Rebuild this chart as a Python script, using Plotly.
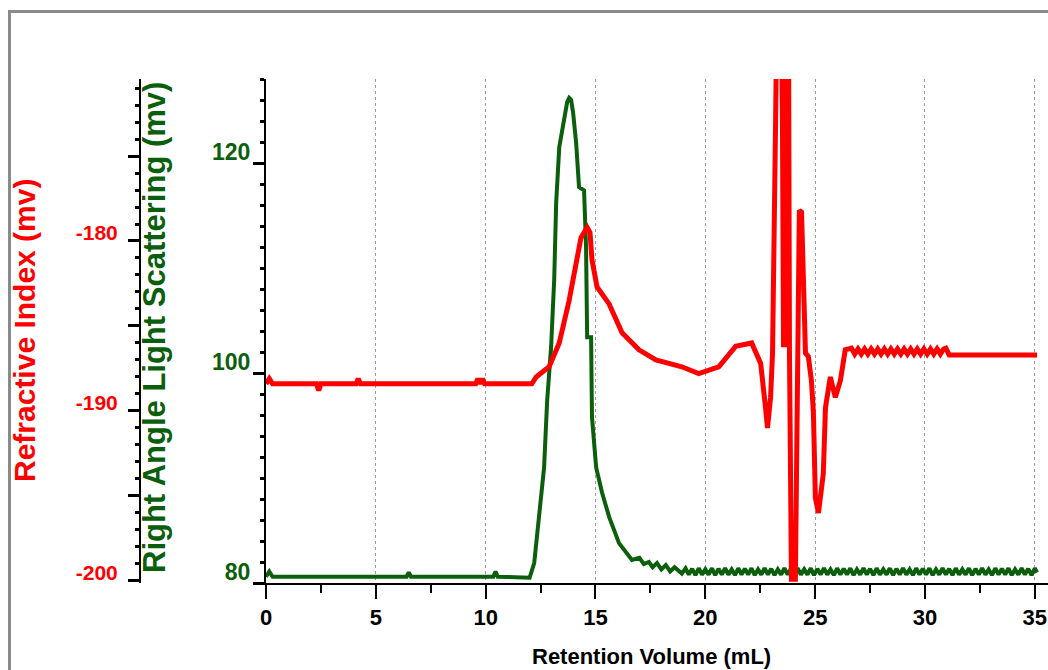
import plotly.graph_objects as go

# ---------------- data ----------------
# Right angle light scattering (green, mV)
ls_volume = [0.0, 0.15, 0.3, 6.4, 6.5, 6.6, 10.35, 10.45, 10.55, 12.0, 12.21, 12.44, 12.66,
             12.80, 12.98, 13.12, 13.21, 13.35, 13.57, 13.71, 13.80, 13.89, 13.98, 14.12,
             14.25, 14.48, 14.57, 14.62, 14.80, 14.84, 15.03, 15.30, 15.62, 16.07, 16.66,
             17.0, 17.2, 17.43, 17.6, 17.8, 18.0, 18.2, 18.4, 18.6, 18.93,
             19.1, 19.25, 19.4, 19.55, 19.7, 19.85, 20.0, 20.15, 20.3, 20.45, 20.6, 20.75,
             20.9, 21.05, 21.2, 21.35, 21.5, 21.65, 21.8, 21.95, 22.1, 22.25, 22.4, 22.55,
             22.7, 22.85, 23.0, 23.15, 23.3, 23.45, 23.6, 23.75, 23.9, 24.05, 24.2, 24.35,
             24.5, 24.65, 24.8, 24.95, 25.1, 25.25, 25.4, 25.55, 25.7, 25.85, 26.0, 26.15,
             26.3, 26.45, 26.6, 26.75, 26.9, 27.05, 27.2, 27.35, 27.5, 27.65, 27.8, 27.95,
             28.1, 28.25, 28.4, 28.55, 28.7, 28.85, 29.0, 29.15, 29.3, 29.45, 29.6, 29.75,
             29.9, 30.05, 30.2, 30.35, 30.5, 30.65, 30.8, 30.95, 31.1, 31.25, 31.4, 31.55,
             31.7, 31.85, 32.0, 32.15, 32.3, 32.45, 32.6, 32.75, 32.9, 33.05, 33.2, 33.35,
             33.5, 33.65, 33.8, 33.95, 34.1, 34.25, 34.4, 34.55, 34.7, 34.85, 35.0, 35.1]
ls_signal = [80.6, 81.1, 80.6, 80.6, 81.0, 80.6, 80.6, 81.1, 80.6, 80.5, 81.9, 86.3, 91.0,
             97.4, 102.5, 108.9, 116.2, 121.5, 124.1, 125.8, 126.2, 126.0, 124.8, 121.9,
             117.7, 117.4, 112.0, 103.4, 103.4, 95.8, 91.0, 88.6, 86.3, 83.8, 82.2,
             82.4, 81.8, 82.0, 81.5, 81.9, 81.3, 81.7, 81.1, 81.5, 80.9,
             81.4, 80.8, 81.35, 80.75, 81.4, 80.8, 81.3, 80.8, 81.4, 80.75, 81.35, 80.8,
             81.4, 80.8, 81.3, 80.75, 81.4, 80.8, 81.35, 80.8, 81.4, 80.75, 81.3, 80.8,
             81.4, 80.8, 81.35, 80.75, 81.3, 80.8, 81.4, 80.8, 81.35, 80.75, 81.4, 80.8,
             81.3, 80.8, 81.4, 80.75, 81.35, 80.8, 81.4, 80.8, 81.3, 80.75, 81.4, 80.8,
             81.35, 80.8, 81.4, 80.75, 81.3, 80.8, 81.4, 80.8, 81.35, 80.75, 81.4, 80.8,
             81.3, 80.8, 81.4, 80.75, 81.35, 80.8, 81.4, 80.8, 81.3, 80.75, 81.4, 80.8,
             81.35, 80.8, 81.4, 80.75, 81.3, 80.8, 81.4, 80.8, 81.35, 80.75, 81.4, 80.8,
             81.3, 80.8, 81.4, 80.75, 81.35, 80.8, 81.4, 80.8, 81.3, 80.75, 81.4, 80.8,
             81.35, 80.8, 81.4, 80.75, 81.3, 80.8, 81.4, 80.8, 81.35, 80.75, 81.4, 81.0]

# Refractive index (red, mV)
ri_volume = [0.0, 0.15, 0.3, 2.3, 2.4, 2.5, 4.1, 4.2, 4.3, 9.55, 9.65, 9.75, 9.85, 9.95,
             12.1, 12.30, 12.89, 13.35, 13.80, 14.12, 14.34, 14.62, 14.75, 14.84, 15.07,
             15.62, 16.21, 16.98, 17.75, 18.93, 19.70, 20.61, 21.38, 22.11, 22.52, 22.74,
             22.83, 22.97, 23.06, 23.20, 23.24, 23.47, 23.51, 23.56, 23.65, 23.70, 23.79,
             23.83, 23.92, 24.10, 24.24, 24.28, 24.38, 24.47, 24.56, 24.69, 24.83, 24.92,
             25.01, 25.15, 25.24, 25.37, 25.47, 25.60, 25.69, 25.92, 26.15, 26.37, 26.65,
             26.8, 26.95, 27.1, 27.25, 27.4, 27.55, 27.7, 27.85, 28.0, 28.15, 28.3, 28.45,
             28.6, 28.75, 28.9, 29.05, 29.2, 29.35, 29.5, 29.65, 29.8, 29.95, 30.1, 30.25,
             30.4, 30.55, 30.7, 30.85, 30.95, 31.1, 35.1]
ri_signal = [-188.4, -188.1, -188.4, -188.4, -188.8, -188.4, -188.4, -188.1, -188.4, -188.4,
             -188.1, -188.4, -188.1, -188.4,
             -188.4, -188.0, -187.4, -186.0, -183.5, -181.1, -179.8, -179.2, -179.5, -181.1,
             -182.7, -183.7, -185.4, -186.4, -187.0, -187.4, -187.8, -187.4, -186.2, -186.0,
             -187.2, -189.8, -191.0, -189.2, -186.6, -172.9, -168.2, -168.2, -172.9, -186.1,
             -186.1, -168.2, -168.2, -186.4, -199.9, -199.9, -185.2, -178.2, -178.3, -182.9,
             -186.6, -186.8, -188.2, -190.1, -195.1, -196.0, -195.2, -193.7, -189.8, -188.8,
             -188.0, -189.2, -188.2, -186.4, -186.3,
             -186.65, -186.35, -186.65, -186.35, -186.65, -186.35, -186.65, -186.35, -186.65,
             -186.35, -186.65, -186.35, -186.65, -186.35, -186.65, -186.35, -186.65, -186.35,
             -186.65, -186.35, -186.65, -186.35, -186.65, -186.35, -186.65, -186.35, -186.65,
             -186.35, -186.3, -186.7, -186.7]

x_ticks = [0, 5, 10, 15, 20, 25, 30, 35]
ls_tickvals = [80, 100, 120]
ri_tickvals = [-200, -195, -190, -185, -180, -175]
ri_ticktext = ["-200", "", "-190", "", "-180", ""]
ri_gridvals = [-190, -180]

# ---------------- styling ----------------
W, H = 1048, 670
RED = "#ff0000"
GREEN = "#0b5e0b"
FONT = "Liberation Sans, Arial, sans-serif"

def px_x(p):
    return p / W

def px_y(p):
    return 1 - p / H

y_dom = [px_y(583), px_y(79)]

fig = go.Figure()
fig.add_trace(go.Scatter(x=ls_volume, y=ls_signal, mode="lines",
                         line=dict(color=GREEN, width=4), yaxis="y", showlegend=False))
fig.add_trace(go.Scatter(x=ri_volume, y=ri_signal, mode="lines",
                         line=dict(color=RED, width=5), yaxis="y2", showlegend=False))

fig.update_layout(
    width=W, height=H,
    margin=dict(l=0, r=0, t=0, b=0, autoexpand=False),
    paper_bgcolor="white", plot_bgcolor="white",
    showlegend=False,
    xaxis=dict(
        domain=[px_x(266), 1.0], range=[0, 35.6], automargin=False,
        tickmode="array", tickvals=x_ticks, ticklabeloverflow="allow",
        ticks="outside", ticklen=14, tickwidth=2, tickcolor="black",
        minor=dict(tickmode="linear", tick0=0, dtick=2.5, ticks="outside",
                   ticklen=8, tickwidth=2, tickcolor="black", showgrid=False),
        showline=True, linewidth=2, linecolor="black",
        showgrid=True, gridcolor="#9a9a9a", gridwidth=1, griddash="dot",
        zeroline=False,
        tickfont=dict(family=FONT, size=22, color="black", weight="bold"),
        anchor="y",
    ),
    yaxis=dict(
        domain=y_dom, range=[80, 128.0], automargin=False,
        tickmode="array", tickvals=ls_tickvals,
        ticks="outside", ticklen=11, tickwidth=3, tickcolor="black",
        minor=dict(tickmode="linear", tick0=80, dtick=2, ticks="outside",
                   ticklen=4, tickwidth=3, tickcolor="black", showgrid=False),
        showline=True, linewidth=2, linecolor="black",
        showgrid=False, zeroline=False,
        tickfont=dict(family=FONT, size=23, color=GREEN, weight="bold"),
        ticklabelshift=-11, ticklabelstandoff=-2,
        anchor="x",
    ),
    yaxis2=dict(
        overlaying="y", anchor="free", position=px_x(140), side="left",
        range=[-200.12, -170.47], automargin=False,
        tickmode="array", tickvals=ri_tickvals, ticktext=ri_ticktext,
        ticks="outside", ticklen=11, tickwidth=3, tickcolor="black",
        minor=dict(tickmode="linear", tick0=-200, dtick=1, ticks="outside",
                   ticklen=4, tickwidth=3, tickcolor="black", showgrid=False),
        showline=True, linewidth=2, linecolor="black",
        showgrid=False, zeroline=False,
        tickfont=dict(family=FONT, size=21, color=RED, weight="bold"),
        ticklabelshift=-8, ticklabelstandoff=6,
    ),
    yaxis3=dict(
        overlaying="y", anchor="x", side="right", automargin=False,
        range=[-200.12, -170.47],
        tickmode="array", tickvals=ri_gridvals,
        showticklabels=False, ticks="", showline=False, zeroline=False,
        showgrid=True, gridcolor="#9a9a9a", gridwidth=1, griddash="dot",
    ),
)

# outer gray frame
fig.add_shape(type="rect", xref="paper", yref="paper",
              x0=px_x(9.5), x1=1.05, y0=-0.05, y1=px_y(11.5),
              line=dict(color="#8a8a8a", width=3), layer="below")

# axis titles
fig.add_annotation(text="Refractive Index (mv)", xref="paper", yref="paper",
                   x=px_x(25), y=px_y(331), textangle=-90, showarrow=False,
                   xanchor="center", yanchor="middle",
                   font=dict(family=FONT, size=30, color=RED, weight="bold"))
fig.add_annotation(text="Right Angle Light Scattering (mv)", xref="paper", yref="paper",
                   x=px_x(155), y=px_y(328), textangle=-90, showarrow=False,
                   xanchor="center", yanchor="middle",
                   font=dict(family=FONT, size=31, color=GREEN, weight="bold"))
fig.add_annotation(text="Retention Volume (mL)", xref="paper", yref="paper",
                   x=px_x(651), y=px_y(656), showarrow=False,
                   xanchor="center", yanchor="middle",
                   font=dict(family=FONT, size=22, color="black", weight="bold"))

# remove the browser's default 8px page margin so the figure sits at the window origin
fig.write_html("out.html",
               config={"displayModeBar": False},
               post_script="document.body.style.margin='0px';document.body.style.overflow='hidden';")
